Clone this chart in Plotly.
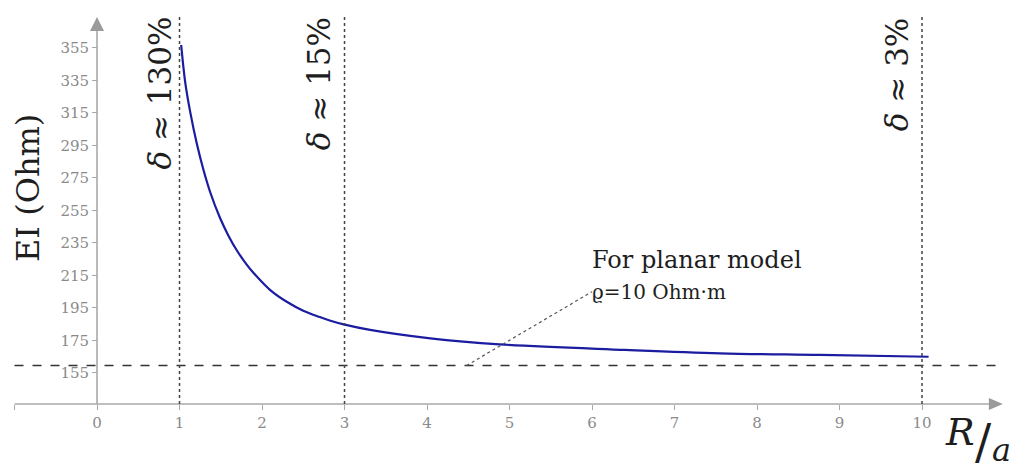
import plotly.graph_objects as go

# EI versus normalised distance R/a
r_over_a = [1.02, 1.07, 1.13, 1.21, 1.29, 1.37, 1.49, 1.59, 1.69, 1.81, 1.89, 2.10, 2.30,
            2.50, 2.70, 2.82, 2.99, 3.31, 4.04, 4.88, 6.40, 7.55, 8.76, 10.08]
ei_ohm = [356.8, 333.5, 315.5, 296.0, 280.0, 266.5, 250.5, 239.8, 230.8, 222.0, 217.0, 206.0,
          198.8, 193.3, 189.4, 187.3, 184.9, 181.5, 176.3, 172.6, 169.2, 167.1, 166.1, 165.0]

planar_ei = 159.6          # planar-model level
marker_x = [1, 3, 10]       # reference distances
marker_text = ["<i>δ</i> ≈ 130%", "<i>δ</i> ≈ 15%", "<i>δ</i> ≈ 3%"]
marker_label_x = [0.764, 2.70, 9.70]

x_ticks = list(range(-1, 11))
x_ticktext = [""] + [str(v) for v in range(0, 11)]
y_ticks = list(range(155, 356, 20))

X0, X1 = -1.176, 11.212
Y0, Y1 = 93.46, 384.5
x_axis_y = 135.9
y_axis_top = 374.0
line_top = 375.3

W, H = 1022, 473
axis_grey = "#a8a8a8"
tick_font = dict(family="DejaVu Serif", size=15, color="#8a8a8a")
text_font = "DejaVu Serif"

fig = go.Figure()

fig.add_trace(go.Scatter(x=r_over_a, y=ei_ohm, mode="lines",
                         line=dict(color="#1c1ca0", width=2.2, shape="spline", smoothing=1.0),
                         hoverinfo="skip", showlegend=False))

shapes = []
# axis lines
shapes.append(dict(type="line", xref="x", yref="y", x0=-1, x1=10.95, y0=x_axis_y, y1=x_axis_y,
                   line=dict(color=axis_grey, width=1.6), layer="below"))
shapes.append(dict(type="line", xref="x", yref="y", x0=0, x1=0, y0=x_axis_y, y1=y_axis_top - 5,
                   line=dict(color=axis_grey, width=1.6), layer="below"))
# arrow heads
shapes.append(dict(type="path", xref="x", yref="y", xsizemode="pixel", ysizemode="pixel",
                   xanchor=10.98, yanchor=x_axis_y, path="M-14,-6 L0,0 L-14,6 Z",
                   fillcolor="#9a9a9a", line=dict(width=0)))
shapes.append(dict(type="path", xref="x", yref="y", xsizemode="pixel", ysizemode="pixel",
                   xanchor=0, yanchor=y_axis_top, path="M-7,-14 L0,0 L7,-14 Z",
                   fillcolor="#9a9a9a", line=dict(width=0)))
# planar model level
shapes.append(dict(type="line", xref="x", yref="y", x0=-1, x1=10.98, y0=planar_ei, y1=planar_ei,
                   line=dict(color="#333333", width=1.6, dash="dash")))
# vertical reference lines
for xv in marker_x:
    shapes.append(dict(type="line", xref="x", yref="y", x0=xv, x1=xv, y0=x_axis_y, y1=line_top,
                       line=dict(color="#444444", width=1.5, dash="dot")))
# leader line for the annotation
shapes.append(dict(type="line", xref="x", yref="y", x0=4.48, y0=planar_ei, x1=6.0, y1=205,
                   line=dict(color="#555555", width=1.2, dash="dot")))

annotations = []
for xv, t in zip(marker_label_x, marker_text):
    annotations.append(dict(x=xv, y=line_top, xref="x", yref="y", text=t, textangle=-90,
                            showarrow=False, xanchor="center", yanchor="top",
                            font=dict(family=text_font, size=31, color="#1e1e1e")))

annotations.append(dict(x=5.97, y=224.5, xref="x", yref="y", text="For planar model",
                        showarrow=False, xanchor="left", yanchor="middle",
                        font=dict(family=text_font, size=24, color="#1e1e1e")))
annotations.append(dict(x=5.97, y=205, xref="x", yref="y", text="ϱ=10 Ohm·m",
                        showarrow=False, xanchor="left", yanchor="middle",
                        font=dict(family=text_font, size=20, color="#1e1e1e")))

# y axis title
annotations.append(dict(x=28 / W, y=1 - 188 / H, xref="paper", yref="paper", text="EI (Ohm)",
                        textangle=-90, showarrow=False, xanchor="center", yanchor="middle",
                        font=dict(family=text_font, size=32, color="#1e1e1e")))
# x axis title R/a
annotations.append(dict(x=960 / W, y=1 - 432 / H, xref="paper", yref="paper", text="<i>R</i>",
                        showarrow=False, xanchor="center", yanchor="middle",
                        font=dict(family=text_font, size=38, color="#1e1e1e")))
annotations.append(dict(x=983 / W, y=1 - 442 / H, xref="paper", yref="paper", text="/",
                        showarrow=False, xanchor="center", yanchor="middle",
                        font=dict(family=text_font, size=48, color="#1e1e1e")))
annotations.append(dict(x=1001 / W, y=1 - 450 / H, xref="paper", yref="paper", text="<i>a</i>",
                        showarrow=False, xanchor="center", yanchor="middle",
                        font=dict(family=text_font, size=32, color="#1e1e1e")))

fig.update_layout(
    width=W, height=H,
    margin=dict(l=0, r=0, t=0, b=0),
    paper_bgcolor="white", plot_bgcolor="white",
    shapes=shapes, annotations=annotations,
    xaxis=dict(range=[X0, X1], domain=[0, 1], showgrid=False, zeroline=False, showline=False,
               tickvals=x_ticks, ticktext=x_ticktext, ticks="outside", ticklen=5,
               tickcolor=axis_grey, tickwidth=1.4, tickfont=tick_font,
               anchor="free", position=(x_axis_y - Y0) / (Y1 - Y0)),
    yaxis=dict(range=[Y0, Y1], domain=[0, 1], showgrid=False, zeroline=False, showline=False,
               tickvals=y_ticks, ticks="outside", ticklen=5, tickcolor=axis_grey, tickwidth=1.4,
               tickfont=tick_font, anchor="free", position=(0 - X0) / (X1 - X0)),
    showlegend=False,
)

fig.write_html("out.html")
